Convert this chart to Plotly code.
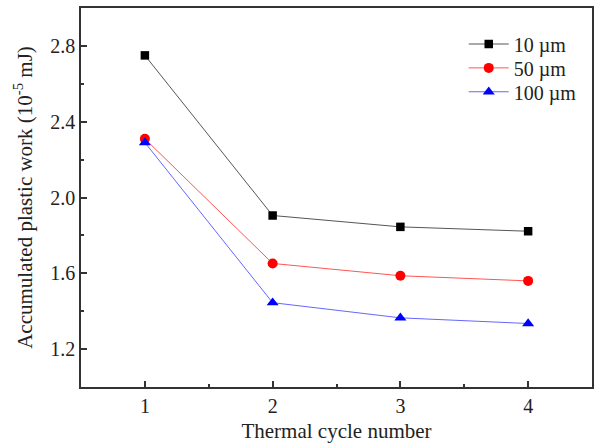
import plotly.graph_objects as go

cycles = [1, 2, 3, 4]
w10 = [2.75, 1.905, 1.845, 1.822]
w50 = [2.31, 1.652, 1.587, 1.56]
w100 = [2.29, 1.445, 1.365, 1.335]
names = ["10 µm", "50 µm", "100 µm"]
colors = ["#000000", "#ff0000", "#0000ff"]
line_colors = ["#555555", "#ff5555", "#6666ff"]
symbols = ["square", "circle", "triangle-up"]
marker_sizes = [8.5, 10, 10.5]
legend_ids = ["legend", "legend2", "legend3"]
legend_ys = [0.905, 0.842, 0.779]

fig = go.Figure()
for ys, n, c, lc, s, ms, lg in zip([w10, w50, w100], names, colors, line_colors, symbols, marker_sizes, legend_ids):
    fig.add_trace(go.Scatter(
        x=cycles, y=ys, name=n, mode="lines+markers",
        line=dict(color=lc, width=1),
        marker=dict(symbol=s, size=ms, color=c),
        legend=lg, showlegend=True,
    ))

fam = "Liberation Serif, Times New Roman, serif"
tickfont = dict(family=fam, size=20, color="#222222")
titlefont = dict(family=fam, size=21, color="#222222")
axis_common = dict(
    showline=True, linecolor="#333333", linewidth=1.5, mirror=True,
    ticks="inside", ticklen=6, tickwidth=1.5, tickcolor="#333333",
    showgrid=False, zeroline=False,
    tickfont=tickfont,
)
fig.update_xaxes(range=[0.5, 4.5], tickvals=[1, 2, 3, 4],
                 minor=dict(ticks="inside", ticklen=3, tickwidth=1.5, tickcolor="#333333", dtick=0.5, tick0=0.5),
                 title=dict(text="Thermal cycle number", font=titlefont, standoff=8),
                 **axis_common)
fig.update_yaxes(range=[1.0, 3.0], tickvals=[1.2, 1.6, 2.0, 2.4, 2.8], tickformat=".1f",
                 minor=dict(ticks="inside", ticklen=3, tickwidth=1.5, tickcolor="#333333", dtick=0.2, tick0=1.0),
                 title=dict(text="Accumulated plastic work (10<sup>-5</sup> mJ)", font=titlefont, standoff=12),
                 **axis_common)

legend_style = dict(x=0.749, xanchor="left", yanchor="middle",
                    bgcolor="rgba(0,0,0,0)", font=dict(family=fam, size=20, color="#222222"),
                    itemwidth=40)
layout_legends = {lg: dict(y=yv, **legend_style) for lg, yv in zip(legend_ids, legend_ys)}

fig.update_layout(
    width=595, height=444,
    margin=dict(l=81, r=1, t=8, b=57),
    plot_bgcolor="white", paper_bgcolor="white",
    font=tickfont,
    showlegend=True,
    **layout_legends,
)
fig.write_html("out.html")
